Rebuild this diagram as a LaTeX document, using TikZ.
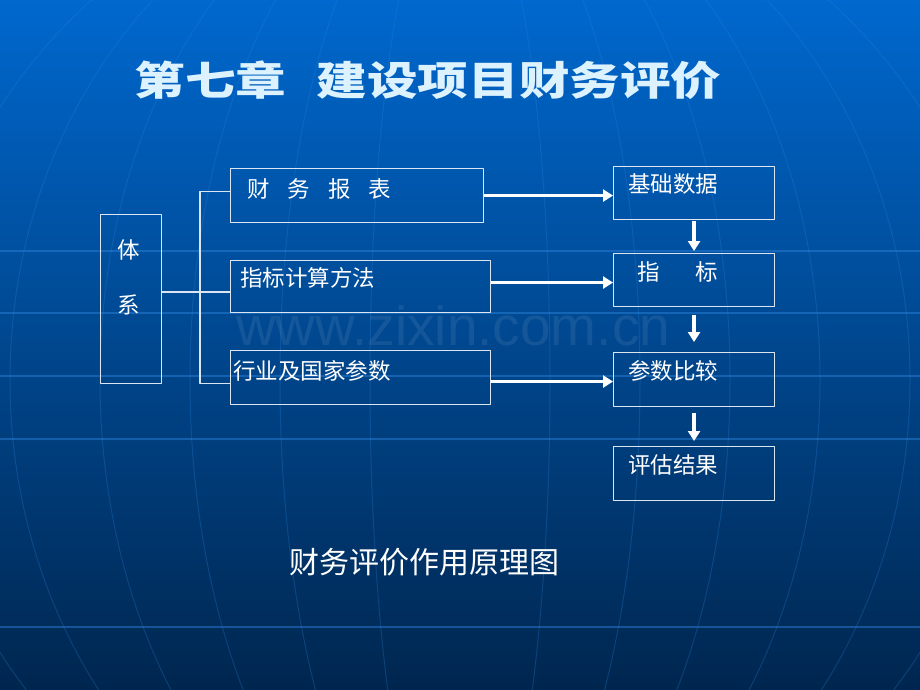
\documentclass[tikz,border=0pt]{standalone}
\usepackage{fontspec}
\setmainfont{Noto Sans CJK SC}
\newfontfamily\wmfont{Liberation Sans}
\usetikzlibrary{arrows.meta}
\definecolor{bgtop}{HTML}{0068CE}
\definecolor{bgmid}{HTML}{00509F}
\definecolor{bgbot}{HTML}{00264F}
\definecolor{gridln}{HTML}{2F86E0}
\definecolor{titlefg}{HTML}{DDF2FF}
\definecolor{boxln}{HTML}{DCE6F2}
\begin{document}
\begin{tikzpicture}[x=1pt,y=-1pt,line join=round,
    box/.style={draw=boxln,line width=1.1pt,anchor=north west,inner sep=0pt},
    txt/.style={text=white,font=\fontsize{22.5}{24}\selectfont,anchor=west,inner sep=0pt},
    conn/.style={draw=boxln,line width=1.1pt},
    arr/.style={white,line width=3.5pt,-{Triangle[width=12pt,length=10pt]}}]
  \useasboundingbox (0,0) rectangle (920,690);
  % background with globe lines
  \shade[top color=bgtop,middle color=bgmid,bottom color=bgbot] (0,0) rectangle (920,690);
  \begin{scope}
    \clip (0,0) rectangle (920,690);
    \foreach \yy in {251,313,376,439,627}
      \draw[gridln,opacity=.45,line width=1.4pt] (0,\yy) -- (920,\yy);
    \foreach \rx in {90,180,270,360,450,540}
      \draw[gridln,opacity=.25,line width=1pt] (460,380) ellipse ({\rx} and 520);
  \end{scope}
  \node[text=white,opacity=.08,font=\wmfont\fontsize{55}{58}\selectfont,anchor=base west,
    inner sep=0pt,text depth=0pt] (wm) at (236,345) {www.zixin.com.cn};
  % title
  \node[text=titlefg,font=\fontsize{40}{44}\selectfont\bfseries] (title) at (428,80)
    {\scalebox{1.265}[1]{第七章\hspace{0.6em}建设项目财务评价}};
  % left part
  \node[box,minimum width=61,minimum height=169] (tx) at (100,214) {};
  \node[txt,anchor=center] (tx1) at (129,250) {体};
  \node[txt,anchor=center] (tx2) at (129,305) {系};
  \node[box,minimum width=253,minimum height=54] (cwbb) at (230,168) {};
  \node[txt] (cwbbt) at (247,189) {财\hspace{0.8em}务\hspace{0.8em}报\hspace{0.8em}表};
  \node[box,minimum width=260,minimum height=52] (zbjs) at (230,260) {};
  \node[txt] (zbjst) at (240,278) {指标计算方法};
  \node[box,minimum width=260,minimum height=54] (hygj) at (230,350) {};
  \node[txt] (hygjt) at (233,371) {行业及国家参数};
  % right part
  \node[box,minimum width=161,minimum height=53] (jcsj) at (613,166) {};
  \node[txt] (jcsjt) at (628,184) {基础数据};
  \node[box,minimum width=161,minimum height=53] (zb) at (613,253) {};
  \node[txt] (zbt) at (637,272) {指\hspace{1.6em}标};
  \node[box,minimum width=161,minimum height=54] (csbj) at (613,352) {};
  \node[txt] (csbjt) at (628,371) {参数比较};
  \node[box,minimum width=161,minimum height=54] (pgjg) at (613,446) {};
  \node[txt] (pgjgt) at (628,465) {评估结果};
  % bracket
  \draw[conn] ([yshift=4pt]cwbb.west) -- ++(-30,0) |- ([yshift=-6pt]hygj.west);
  \draw[conn] (tx.east |- 0,292) -- (zbjs.west |- 0,292);
  % arrows
  \draw[arr] (cwbb.east) -- (cwbb.east -| jcsj.west);
  \draw[arr] ([yshift=4pt]zbjs.east) -- ([yshift=4pt]zbjs.east -| zb.west);
  \draw[arr] ([yshift=-4pt]hygj.east) -- ([yshift=-4pt]hygj.east -| csbj.west);
  \draw[arr,shorten <=1pt,shorten >=2pt] (jcsj) -- (zb);
  \draw[arr,shorten <=8pt,shorten >=10pt] (zb) -- (csbj);
  \draw[arr,shorten <=6pt,shorten >=5pt] (csbj) -- (pgjg);
  % caption
  \node[text=white,font=\fontsize{30}{32}\selectfont] (cap) at (424,562) {财务评价作用原理图};
\end{tikzpicture}
\end{document}
